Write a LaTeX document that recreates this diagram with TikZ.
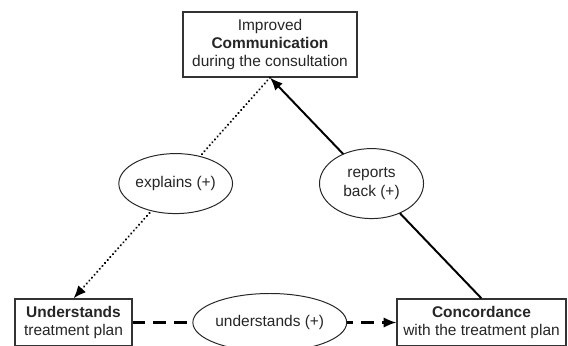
\documentclass[tikz,border=0pt]{standalone}
\usepackage{fontspec}
\setmainfont{Liberation Sans}
\usetikzlibrary{arrows.meta,shapes.geometric}
\begin{document}
\begin{tikzpicture}[
		x=0.025cm,
		y=-0.025cm,
		every node/.style={
			align=center,
			font=\fontsize{11}{13}\selectfont,
			text=black!85,
			inner sep=1pt
		},
		box/.style={draw=black!80, line width=0.8pt, solid, rectangle, fill=white},
		oval/.style={draw=black!85, line width=0.7pt, solid, ellipse, fill=white, inner sep=0pt},
		tip/.style={-{Latex[length=3.2mm,width=2.6mm]}},
		explainlink/.style={tip, line width=1.6pt, line cap=round, dash pattern=on 0.1pt off 2.7pt},
		reportlink/.style={tip, line width=1.4pt},
		understandlink/.style={tip, line width=1.5pt, dash pattern=on 3.2mm off 2mm}
		]
		
		\useasboundingbox (0,0) rectangle (568,345);
		
		\node[box, minimum width=4.35cm, minimum height=1.625cm] (comm) at (270,44.5)
			{Improved\\\textbf{Communication}\\during the consultation};
		\node[box, minimum width=2.925cm, minimum height=1.175cm] (underst) at (73.5,322.5)
			{\textbf{Understands}\\treatment plan};
		\node[box, minimum width=4.225cm, minimum height=1.175cm] (concord) at (481.5,322.5)
			{\textbf{Concordance}\\with the treatment plan};
		
		\draw[explainlink] (comm.south) -- node[oval, pos=0.48, minimum width=2.6cm, minimum height=1.5cm] (explains) {explains (+)} (underst.north);
		\draw[reportlink] (concord.north) -- node[oval, pos=0.52, minimum width=2.6cm, minimum height=1.75cm] (reports) {reports\\back (+)} (comm.south);
		\draw[understandlink] (underst.east) -- node[oval, pos=0.52, minimum width=3.2cm, minimum height=1.45cm] (understands) {understands (+)} (concord.west);
	\end{tikzpicture}
\end{document}
